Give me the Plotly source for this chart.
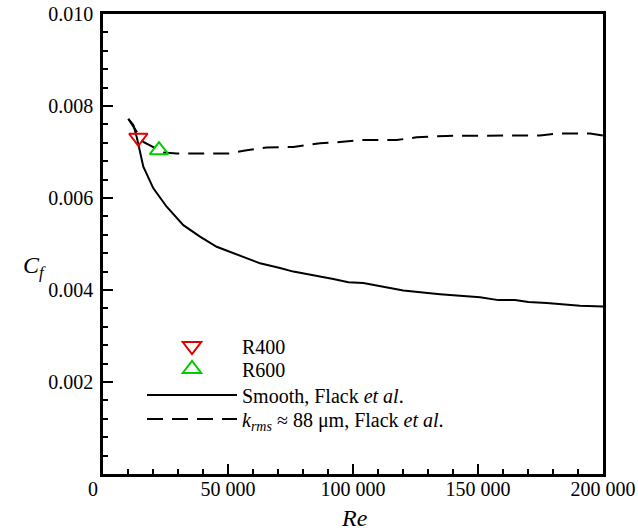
import plotly.graph_objects as go

# Smooth wall, Flack et al.
re_smooth = [10130, 12130, 13470, 16130, 20130, 23470, 25470, 32130, 38800, 45470,
             52130, 62800, 70800, 76130, 92130, 98130, 104130, 120130, 134800,
             150800, 158130, 164800, 170130, 177470, 190800, 200000]
cf_smooth = [0.00772, 0.00759, 0.00733, 0.00668, 0.00621, 0.00596, 0.00581, 0.00541,
             0.00516, 0.00494, 0.00480, 0.00458, 0.00448, 0.00440, 0.00424, 0.00417,
             0.00415, 0.00399, 0.00391, 0.00384, 0.00378, 0.00378, 0.00374, 0.00372,
             0.00366, 0.00364]

# Rough wall k_rms ~ 88 um, Flack et al.
re_rough = [10130, 16130, 24130, 29470, 50800, 57470, 65470, 76130, 86800, 93470,
            102800, 117470, 125470, 137470, 174800, 181470, 194800, 200000]
cf_rough = [0.00772, 0.00722, 0.00699, 0.00697, 0.00697, 0.00704, 0.00710, 0.00711,
            0.00719, 0.00721, 0.00726, 0.00726, 0.00732, 0.00735, 0.00736, 0.00740,
            0.00740, 0.00736]

# Simulation cases
re_r400 = [14130]
cf_r400 = [0.00731]
re_r600 = [22400]
cf_r600 = [0.00704]

y_ticks = [0.002, 0.004, 0.006, 0.008, 0.010]
y_labels = ["0.002", "0.004", "0.006", "0.008", "0.010"]
x_ticks = [0, 50000, 100000, 150000, 200000]
x_labels = ["0\u2002\u2002", "50\u00a0000", "100\u00a0000", "150\u00a0000", "200\u00a0000"]

FONT = "Times New Roman, Liberation Serif, serif"

fig = go.Figure()
fig.add_trace(go.Scatter(x=re_smooth, y=cf_smooth, mode="lines", legend="legend3",
                         name="Smooth, Flack <i>et al</i>.",
                         line=dict(color="black", width=2)))
fig.add_trace(go.Scatter(x=re_rough, y=cf_rough, mode="lines", legend="legend4",
                         name="<i>k</i><sub><i>rms</i></sub> \u2248 88 \u03bcm, Flack <i>et al</i>.",
                         line=dict(color="black", width=2, dash="16px,9px")))
fig.add_trace(go.Scatter(x=re_r400, y=cf_r400, mode="markers", name="R400", legend="legend",
                         marker=dict(symbol="triangle-down-open", size=16, color="#e00000",
                                     line=dict(width=2, color="#e00000"))))
fig.add_trace(go.Scatter(x=re_r600, y=cf_r600, mode="markers", name="R600", legend="legend2",
                         marker=dict(symbol="triangle-up-open", size=16, color="#00cc00",
                                     line=dict(width=2, color="#00cc00"))))


def leg(y):
    return dict(x=0.078, y=y, xanchor="left", yanchor="middle",
                bgcolor="rgba(0,0,0,0)", borderwidth=0, itemwidth=90,
                font=dict(family=FONT, size=20, color="black"))


fig.update_layout(
    template="none",
    width=638, height=532,
    margin=dict(l=103, r=35, t=14, b=58),
    paper_bgcolor="white", plot_bgcolor="white",
    font=dict(family=FONT, size=20, color="black"),
    showlegend=True,
    legend=leg(0.2780), legend2=leg(0.2283), legend3=leg(0.1717), legend4=leg(0.1196),
    xaxis=dict(range=[0, 200000], tickvals=x_ticks, ticktext=x_labels, automargin=False,
               ticks="inside", ticklen=10, tickwidth=2, tickcolor="black",
               showline=True, linecolor="black", linewidth=2.5, mirror=True,
               showgrid=False, zeroline=False,
               minor=dict(dtick=10000, tick0=0, ticks="inside", ticklen=5,
                          tickwidth=1.5, tickcolor="black", showgrid=False),
               tickfont=dict(family=FONT, size=20), ticklabelstandoff=-5),
    yaxis=dict(range=[0, 0.010], tickvals=y_ticks, ticktext=y_labels, automargin=False,
               ticks="inside", ticklen=10, tickwidth=2, tickcolor="black",
               showline=True, linecolor="black", linewidth=2.5, mirror=True,
               showgrid=False, zeroline=False,
               minor=dict(dtick=0.0004, tick0=0, ticks="inside", ticklen=5,
                          tickwidth=1.5, tickcolor="black", showgrid=False),
               tickfont=dict(family=FONT, size=20), ticklabelstandoff=3),
    annotations=[
        dict(text="<i>Re</i>", xref="paper", yref="paper", x=0.502, y=-0.0957,
             xanchor="center", yanchor="middle", showarrow=False,
             font=dict(family=FONT, size=24)),
        dict(text="<i>C<sub>f</sub></i>", xref="paper", yref="paper", x=-0.138, y=0.45,
             xanchor="center", yanchor="middle", showarrow=False,
             font=dict(family=FONT, size=24)),
    ],
)

fig.write_html("out.html", config={"displayModeBar": False},
               post_script="document.body.style.margin='0px';")
